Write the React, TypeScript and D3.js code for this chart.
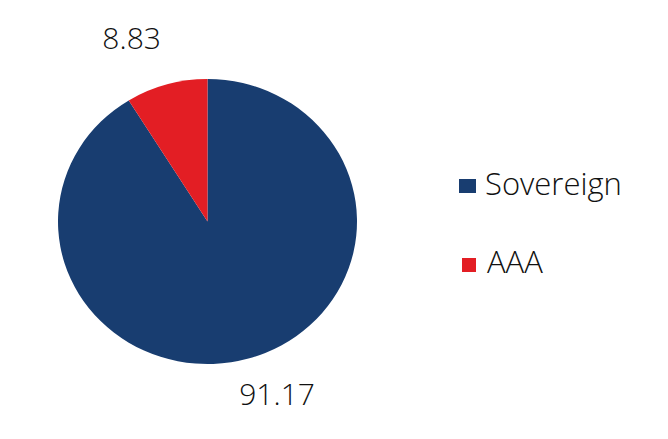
import * as d3 from "d3";
import { useEffect, useRef } from "react";

const categories = ["Sovereign", "AAA"];
const values = [91.17, 8.83];
const colors = ["#183d70", "#e31e24"];

export default function App() {
  const svgRef = useRef<SVGSVGElement>(null);

  useEffect(() => {
    if (!svgRef.current) return;
    const svg = d3.select(svgRef.current);
    svg.selectAll("*").remove();

    const cx = 207.5;
    const cy = 221.5;
    const rx = 149.5;
    const ry = 142.5;
    const font = "'Open Sans', sans-serif";

    const data = categories.map((c, i) => ({ name: c, value: values[i] }));
    const pie = d3
      .pie<{ name: string; value: number }>()
      .sort(null)
      .value((d) => d.value);
    const arcs = pie(data);

    const arc = d3
      .arc<d3.PieArcDatum<{ name: string; value: number }>>()
      .innerRadius(0)
      .outerRadius(rx);

    // slightly squashed circle like the original
    const g = svg
      .append("g")
      .attr("transform", `translate(${cx},${cy}) scale(1,${ry / rx})`);

    g.selectAll("path")
      .data(arcs)
      .enter()
      .append("path")
      .attr("d", arc)
      .attr("fill", (_d, i) => colors[i]);

    // outside labels (best-fit style placement)
    const labelR = [192, 204];
    const shiftX = [17, -20];

    svg
      .append("g")
      .selectAll("text")
      .data(arcs)
      .enter()
      .append("text")
      .attr("x", (d, i) => {
        const c = d3.arc().innerRadius(labelR[i]).outerRadius(labelR[i]).centroid(d as any);
        return cx + c[0] + shiftX[i];
      })
      .attr("y", (d, i) => {
        const c = d3.arc().innerRadius(labelR[i]).outerRadius(labelR[i]).centroid(d as any);
        return cy + c[1] * (ry / rx) * 0.98;
      })
      .attr("dy", "0.36em")
      .attr("text-anchor", "middle")
      .style("font-family", font)
      .style("font-weight", 350)
      .style("font-size", "30px")
      .attr("fill", "#111")
      .text((d) => d.data.value.toFixed(2));

    // legend
    const legend = svg.append("g").attr("transform", "translate(459,186)");
    const item = legend
      .selectAll("g")
      .data(data)
      .enter()
      .append("g")
      .attr("transform", (_d, i) => `translate(0,${i * 78})`);

    item
      .append("rect")
      .attr("x", (_d, i) => (i === 0 ? 0 : 3))
      .attr("y", (_d, i) => (i === 0 ? -7 : -6))
      .attr("width", (_d, i) => (i === 0 ? 17 : 14))
      .attr("height", 14)
      .attr("fill", (_d, i) => colors[i]);

    item
      .append("text")
      .attr("x", (_d, i) => (i === 0 ? 26 : 28))
      .attr("y", 9)
      .style("font-family", font)
      .style("font-weight", 350)
      .style("font-size", "31px")
      .attr("fill", "#111")
      .text((d) => d.name);
  }, []);

  return (
    <svg
      ref={svgRef}
      width={668}
      height={439}
      style={{ display: "block", margin: -8, background: "#fff" }}
    />
  );
}
